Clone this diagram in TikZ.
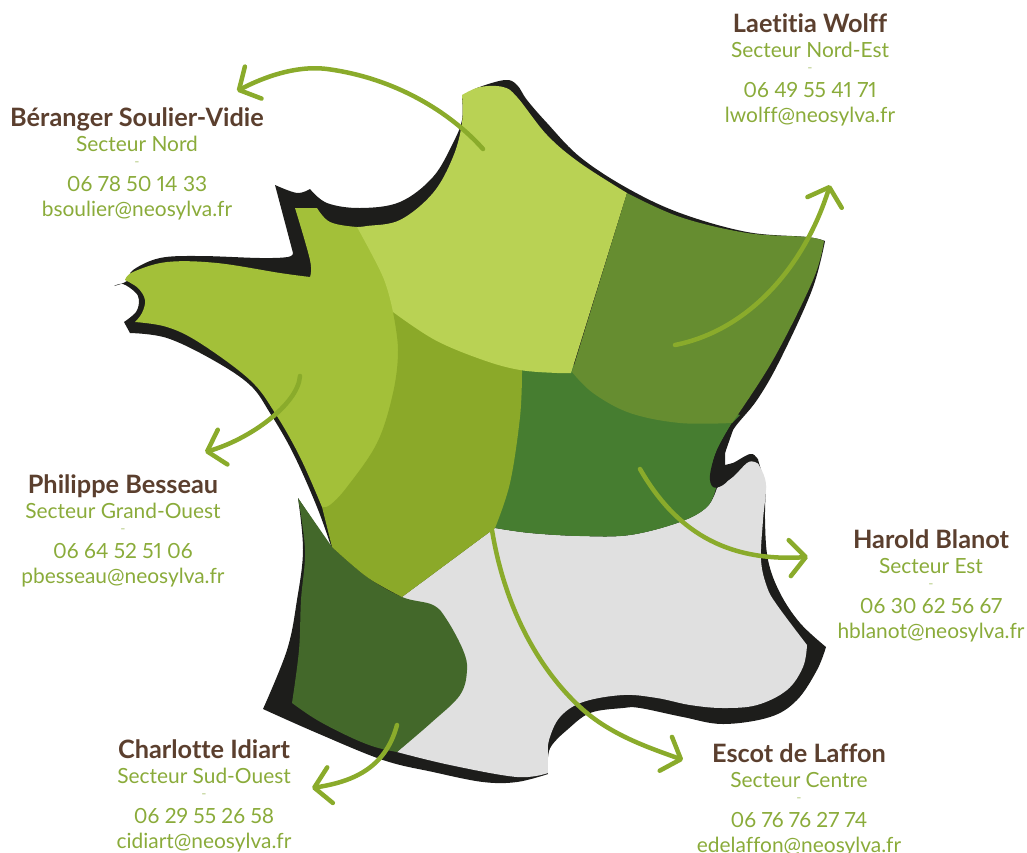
\documentclass[tikz,border=0pt]{standalone}
\usepackage{fontspec}
\setmainfont{Lato}[Ligatures=NoCommon,Numbers=Proportional]
\usetikzlibrary{arrows.meta}
\definecolor{inkblack}{HTML}{1D1D1B}
\definecolor{nordc}{HTML}{B9D254}
\definecolor{ouestc}{HTML}{A3C039}
\definecolor{centrec}{HTML}{8BA929}
\definecolor{estc}{HTML}{467D30}
\definecolor{nestc}{HTML}{668D30}
\definecolor{soc}{HTML}{43682A}
\definecolor{grisc}{HTML}{E0E0E0}
\definecolor{arrowc}{HTML}{8AAB2B}
\definecolor{brownc}{HTML}{5B3F2E}
\definecolor{textc}{HTML}{8AAB3A}
\tikzset{
  callout/.style={draw=arrowc,line width=4.5pt,line cap=round,
    -{Straight Barb[length=16pt,width=36pt,round]}},
  namelab/.style={anchor=base,inner sep=0pt,font=\fontsize{25.3}{28}\selectfont\bfseries,text=brownc},
  infolab/.style={anchor=base,inner sep=0pt,font=\fontsize{20.9}{24}\selectfont,text=textc},
  dashlab/.style={anchor=base,inner sep=0pt,font=\fontsize{14}{16}\selectfont,text=textc!60!white}
}
\newcommand{\person}[7]{%
  \node[namelab] (#1name) at (#2,#3) {#4};
  \node[infolab] (#1sect) at (#2,{#3+25}) {#5};
  \node[dashlab] (#1dash) at (#2,{#3+40}) {-};
  \node[infolab] (#1tel) at (#2,{#3+65}) {#6};
  \node[infolab] (#1mail) at (#2,{#3+90}) {#7};
}
\begin{document}
\begin{tikzpicture}[x=1pt,y=-1pt]
\useasboundingbox (0,0) rectangle (1027,852);
% silhouette shadow
\fill[inkblack]
  plot[smooth,tension=.6] coordinates {(275,185)(297,193)(310,189)}
  -- plot[smooth,tension=.6] coordinates {(310,189)(327,203)(360,208)(400,202)(433,177)(453,143)(462,120)(462,97)}
  -- plot[smooth,tension=.6] coordinates {(462,97)(477,88)(505,80)(517,85)(527,100)(547,123)(580,157)(627,188)(680,213)(747,232)(807,237)(825,241)}
  -- plot[smooth,tension=.6] coordinates {(825,241)(812,290)(780,360)(757,400)(733,430)(725,453)(725,465)(733,463)(750,454)(757,458)(759,463)(766,487)}
  -- plot[smooth,tension=.6] coordinates {(766,487)(765,520)(768,560)(780,593)(800,623)(826,647)}
  -- plot[smooth,tension=.6] coordinates {(826,647)(817,670)(797,700)(770,717)(723,724)(683,717)(640,708)(623,708)(590,713)(567,730)(552,745)(548,757)(548,774)}
  -- plot[smooth,tension=.6] coordinates {(548,774)(517,782)(483,782)(433,772)(383,760)(317,733)(263,709)}
  -- plot[smooth,tension=.6] coordinates {(263,709)(287,650)(297,600)(303,550)(298,498)}
  -- (332,549)
  -- plot[smooth,tension=.6] coordinates {(332,549)(317,507)(293,453)(270,413)(250,385)(213,360)(167,338)(130,333)}
  -- (124,322)
  -- plot[smooth,tension=.6] coordinates {(124,322)(136,312)(139,300)(135,292)(123,284)(114,286)}
  -- plot[smooth,tension=.6] coordinates {(114,286)(127,281)(133,270)(160,258)(200,256)(260,258)(288,257)(293,253)}
  -- cycle;
% Secteur Centre (grey)
\fill[grisc]
  (495,528)
  -- plot[smooth,tension=.6] coordinates {(495,528)(530,533)(580,536)(630,535)(680,522)(707,507)(717,488)}
  -- plot[smooth,tension=.6] coordinates {(717,488)(733,477)(747,463)(755,462)(760,467)(766,485)(763,520)(761,560)(767,587)(777,605)(807,645)}
  -- plot[smooth,tension=.6] coordinates {(807,645)(803,667)(787,690)(757,705)(723,708)(690,705)(657,698)(623,695)(583,702)(560,717)(549,740)(548,757)(548,773)}
  -- plot[smooth,tension=.6] coordinates {(548,773)(517,777)(450,765)(397,752)}
  -- (460,695) -- (467,670) -- (402,597) -- cycle;
% Secteur Sud-Ouest
\fill[soc]
  (298,498) -- (332,547)
  -- plot[smooth,tension=.6] coordinates {(332,547)(367,577)(402,597)(433,605)(447,620)(463,650)(467,670)(460,695)(432,722)(397,752)}
  -- plot[smooth,tension=.6] coordinates {(397,752)(375,747)(350,737)(317,720)(292,703)}
  -- plot[smooth,tension=.6] coordinates {(292,703)(299,650)(301,600)(305,550)(298,498)}
  -- cycle;
% Secteur Est (first, its top and west edges are covered by neighbours)
\fill[estc]
  (510,365) -- (590,365)
  -- (740,415) -- (732,423)
  -- plot[smooth,tension=.6] coordinates {(732,423)(717,450)(712,470)(716,488)}
  -- plot[smooth,tension=.6] coordinates {(716,488)(707,507)(680,522)(630,535)(580,536)(530,533)(495,528)}
  -- (480,500)
  -- cycle;
% Secteur Grand-Ouest
\fill[ouestc]
  plot[smooth,tension=.6] coordinates {(295,208)(310,260)(310,277)}
  -- plot[smooth,tension=.6] coordinates {(310,277)(280,273)(217,263)(167,262)(133,272)(125,280)}
  -- plot[smooth,tension=.6] coordinates {(125,280)(138,288)(145,300)(142,313)(135,322)}
  -- plot[smooth,tension=.6] coordinates {(135,322)(167,327)(200,343)(250,380)(275,413)(300,457)(322,507)}
  -- (345,530) -- (420,420) -- (420,300)
  -- (375,226)
  -- plot[smooth,tension=.6] coordinates {(375,226)(357,227)(330,222)(317,208)}
  -- cycle;
% Secteur Centre-Ouest
\fill[centrec]
  plot[smooth,tension=.6] coordinates {(322,507)(330,505)(347,487)(377,443)(393,393)(398,350)(393,312)}
  -- (485,340) -- (522,360)
  -- plot[smooth,tension=.6] coordinates {(522,372)(520,417)(510,483)(495,528)}
  -- (402,597)
  -- plot[smooth,tension=.6] coordinates {(402,597)(367,577)(332,547)}
  -- cycle;
% Secteur Nord
\fill[nordc]
  plot[smooth,tension=.6] coordinates {(357,227)(367,226)(400,220)(433,193)(453,157)(462,123)(462,95)}
  -- plot[smooth,tension=.6] coordinates {(462,95)(480,87)(503,87)(517,97)(547,135)(580,163)(627,193)}
  -- (571,373)
  -- plot[smooth,tension=.6] coordinates {(571,373)(557,373)(520,370)(483,360)(435,340)(393,312)}
  -- plot[smooth,tension=.6] coordinates {(393,312)(383,277)(357,227)}
  -- cycle;
% Secteur Nord-Est
\fill[nestc]
  plot[smooth,tension=.6] coordinates {(627,193)(680,217)(747,233)(807,237)(824,241)}
  -- plot[smooth,tension=.6] coordinates {(824,241)(813,280)(773,360)(732,423)}
  -- plot[smooth,tension=.6] coordinates {(732,423)(680,423)(630,413)(593,393)(572,372)}
  -- cycle;
% black blob on the east edge
\fill[inkblack]
  plot[smooth,tension=.6] coordinates {(732,423)(717,450)(710,475)(713,487)(723,485)(733,475)(747,462)}
  -- (733,463) -- (725,465) -- (725,453) -- (733,430) -- cycle;
% people
\person{a}{137}{126}{Béranger Soulier-Vidie}{Secteur Nord}{06 78 50 14 33}{bsoulier@neosylva.fr}
\person{b}{810}{32}{Laetitia Wolff}{Secteur Nord-Est}{06 49 55 41 71}{lwolff@neosylva.fr}
\person{c}{123}{493}{Philippe Besseau}{Secteur Grand-Ouest}{06 64 52 51 06}{pbesseau@neosylva.fr}
\person{d}{931}{548}{Harold Blanot}{Secteur Est}{06 30 62 56 67}{hblanot@neosylva.fr}
\person{e}{204}{758}{Charlotte Idiart}{Secteur Sud-Ouest}{06 29 55 26 58}{cidiart@neosylva.fr}
\person{f}{799}{762}{Escot de Laffon}{Secteur Centre}{06 76 76 27 74}{edelaffon@neosylva.fr}
% arrow ends
\coordinate (nordS) at (483,149);   \coordinate (nordT) at (237,91);
\coordinate (nestS) at (675,345);   \coordinate (nestT) at (830,185);
\coordinate (ouestS) at (300,376);  \coordinate (ouestT) at (205,452);
\coordinate (estS) at (640,469);    \coordinate (estT) at (808,557);
\coordinate (centS) at (492,530);   \coordinate (centT) at (683,760);
\coordinate (soS) at (397,725);     \coordinate (soT) at (312,788);
\draw[callout] (nordS) .. controls (450,112) and (395,78) .. (327,69) .. controls (295,65) and (262,78) .. (nordT);
\draw[callout] (nestS) .. controls (750,330) and (805,265) .. (nestT);
\draw[callout] (ouestS) .. controls (298,405) and (248,440) .. (ouestT);
\draw[callout] (estS) .. controls (675,530) and (725,562) .. (estT);
\draw[callout] (centS) .. controls (505,610) and (540,670) .. (580,707) .. controls (610,735) and (650,748) .. (centT);
\draw[callout] (soS) .. controls (385,770) and (350,782) .. (soT);
\end{tikzpicture}
\end{document}
